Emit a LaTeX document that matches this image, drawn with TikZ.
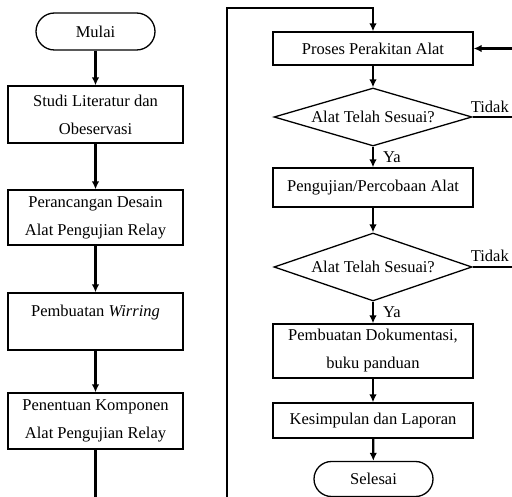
\documentclass[tikz,border=0pt]{standalone}
\usepackage{fontspec}
\setmainfont{Liberation Serif}
\usetikzlibrary{arrows.meta,shapes.geometric}
\begin{document}
\begin{tikzpicture}[x=1pt,y=-1pt,
  every node/.style={font=\fontsize{16.5}{28}\selectfont},
  box/.style={draw, line width=1.3pt, rectangle, inner sep=0pt, align=center},
  term/.style={draw, line width=1.3pt, rectangle, inner sep=0pt, minimum width=119pt},
  dia/.style={draw, line width=1.3pt, diamond, inner sep=0pt, minimum width=198pt},
  flow/.style={line width=2.2pt, -{Latex[length=8pt,width=7.5pt]}},
  conn/.style={line width=2.2pt},
  lbl/.style={inner sep=0pt, anchor=base west},
]
\path[use as bounding box] (0,0) rectangle (512,497);

% left column
\node[term, minimum height=37pt, rounded corners=18.5pt] (mulai) at (95.5,31.5) {Mulai};
\node[box, minimum width=175pt, minimum height=57pt] (b2) at (95.5,114.5) {Studi Literatur dan\\Obeservasi};
\node[box, minimum width=175pt, minimum height=55pt] (b3) at (95.5,217.5) {Perancangan Desain\\Alat Pengujian Relay};
\node[box, minimum width=175pt, minimum height=57pt,
      label={[yshift=8.5pt]center:Pembuatan \textit{Wirring}}] (b4) at (95.5,321.5) {};
\node[box, minimum width=175pt, minimum height=56pt] (b5) at (95.5,421) {Penentuan Komponen\\Alat Pengujian Relay};

% right column
\node[box, minimum width=200pt, minimum height=33pt] (proses) at (373,48.5) {Proses Perakitan Alat};
\node[dia, minimum height=58pt, label=center:{Alat Telah Sesuai?}] (d1) at (373,117) {};
\node[box, minimum width=200pt, minimum height=39pt] (peng) at (373,187.5) {Pengujian/Percobaan Alat};
\node[dia, minimum height=68pt, label=center:{Alat Telah Sesuai?}] (d2) at (373,267) {};
\node[box, minimum width=200pt, minimum height=54pt] (dok) at (373,351) {Pembuatan Dokumentasi,\\buku panduan};
\node[box, minimum width=200pt, minimum height=35pt] (kes) at (373,420.5) {Kesimpulan dan Laporan};
\node[term, minimum height=35pt, rounded corners=17.5pt] (sel) at (373.5,479) {Selesai};

% free ends at the picture's edges
\coordinate (lb) at (95.5,497);
\coordinate (rb) at (227,497);
\coordinate (tl) at (227,8);
\coordinate (r0) at (512,48.5);
\coordinate (r1) at (512,117);
\coordinate (r2) at (512,267);

% left connectors
\draw[flow] (mulai) -- (b2);
\draw[flow] (b2) -- (b3);
\draw[flow] (b3) -- (b4);
\draw[flow] (b4) -- (b5);
\draw[conn] (b5) -- (lb);

% loop to right column
\draw[flow] (rb) -- (tl) -| (proses);

% right connectors
\draw[flow] (proses) -- (d1);
\draw[flow] (d1) -- node[midway, lbl, anchor=west, xshift=9pt]{Ya} (peng);
\draw[flow] (peng) -- (d2);
\draw[flow] (d2) -- node[midway, lbl, anchor=west, xshift=9pt]{Ya} (dok);
\draw[flow] (dok) -- (kes);
\draw[flow] (kes) -- (sel);

% Tidak branches
\draw[conn, line width=1.6pt] (d1.east) -- (r1);
\node[lbl] (t1) at ([xshift=-2pt,yshift=4pt]d1.east) {Tidak};
\draw[conn, line width=1.6pt] (d2.east) -- (r2);
\node[lbl] (t2) at ([xshift=-2pt,yshift=5pt]d2.east) {Tidak};
\draw[flow] (r0) -- (proses);
\end{tikzpicture}
\end{document}
